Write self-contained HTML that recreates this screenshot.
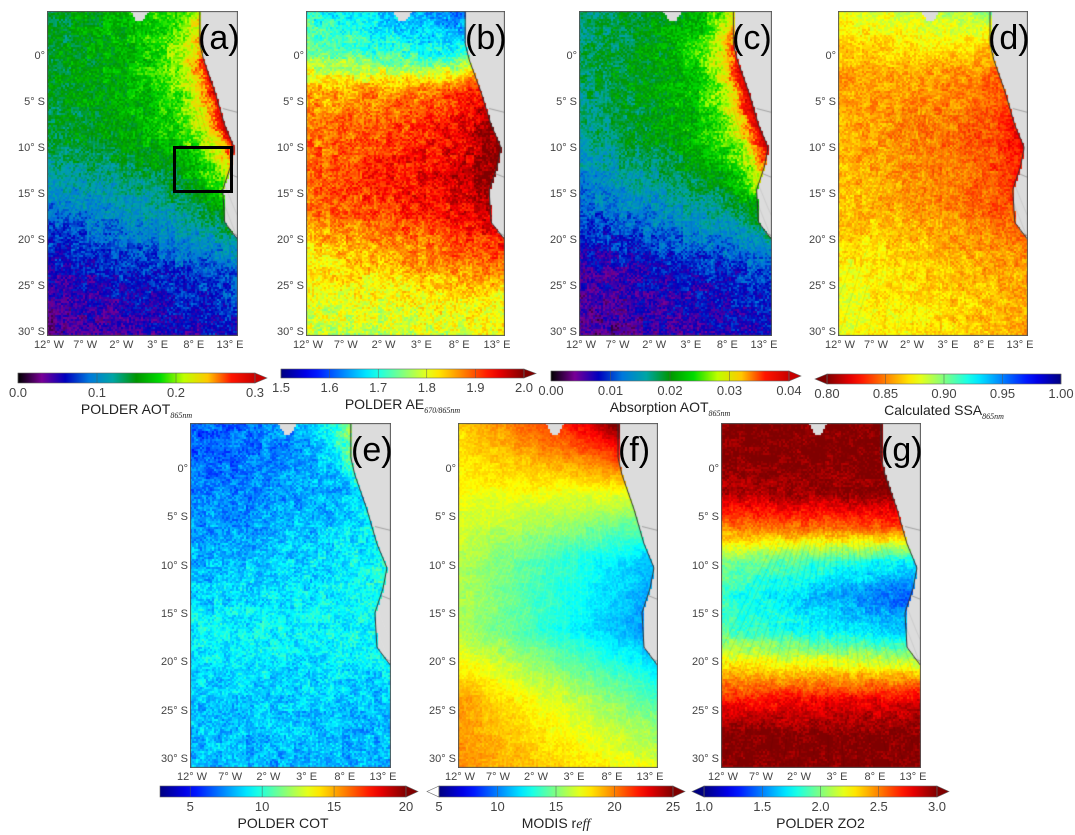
<!DOCTYPE html>
<html><head><meta charset="utf-8"><style>
html,body{margin:0;padding:0;background:#fff;}
#root{position:relative;width:1075px;height:835px;overflow:hidden;font-family:"Liberation Sans",sans-serif;color:#333;}
canvas{position:absolute;}
.t{position:absolute;white-space:nowrap;font-size:11px;color:#444;}
.pl{position:absolute;font-size:34px;color:#000;line-height:1;}
svg{position:absolute;left:0;top:0;}
</style></head><body>
<div id="root">
<svg id="cb" width="1075" height="835"></svg>
</div>
<script>
// colorbar tick labels (data)
const ticksA=["0.0","0.1","0.2","0.3"];
const ticksB=["1.5","1.6","1.7","1.8","1.9","2.0"];
const ticksC=["0.00","0.01","0.02","0.03","0.04"];
const ticksD=["0.80","0.85","0.90","0.95","1.00"];
const ticksE=["5","10","15","20"];
const ticksF=["5","10","15","20","25"];
const ticksG=["1.0","1.5","2.0","2.5","3.0"];
const latLabels=["0°","5° S","10° S","15° S","20° S","25° S","30° S"];
const lonLabels=["12° W","7° W","2° W","3° E","8° E","13° E"];
// field keyframes (normalised colour position, top->bottom)
const fieldL={a:[.46,.48,.45,.3,.18,.1],b:[.4,.5,.7,.75,.78,.75,.65,.6,.55],c:[.42,.44,.4,.28,.15,.1],d:[.62,.72,.7,.68,.62,.6],e:[.2,.24,.3,.37,.33,.3],f:[.66,.62,.55,.55,.72,.74],g:[1,1,.95,.75,.5,.42,.45,.65,.85,1,1]};
const fieldR={a:[.66,.62,.6,.46,.28,.2],b:[.2,.3,.8,.9,.95,.9,.8,.65,.6],c:[.58,.6,.62,.46,.25,.2],d:[.5,.72,.8,.78,.72,.7],e:[.3,.3,.37,.38,.32,.3],f:[1,.6,.3,.25,.45,.6],g:[1,1,1,.8,.35,.2,.3,.6,.9,1,1]};
const fieldC={a:[.1,.38,.38,.1,0,0],b:[0,.1,.12,.05,0,0],c:[.2,.45,.42,.1,0,0],d:[0,.08,.1,.05,0,0],e:[.3,.05,.05,0,0,0],f:[.1,0,0,0,0,0],g:[0,0,0,0,0,0]};
const noiseAmp={a:.09,b:.1,c:.09,d:.07,e:.09,f:.04,g:.06};

const panels=[
 {id:'a',x:47,y:11,w:191,h:325,cm:'nipy',arc:'#000',ticks:ticksA,cb:[18,255,373,383],arR:1,arL:0,title:'POLDER AOT',sub:'865nm'},
 {id:'b',x:306,y:11,w:199,h:325,cm:'jet',arc:null,ticks:ticksB,cb:[281,524,369,378],arR:1,arL:0,title:'POLDER AE',sub:'670/865nm'},
 {id:'c',x:579,y:11,w:193,h:325,cm:'nipy',arc:'#000',ticks:ticksC,cb:[551,789,371,381],arR:1,arL:0,title:'Absorption AOT',sub:'865nm'},
 {id:'d',x:838,y:11,w:190,h:325,cm:'jet',arc:'#000',ticks:ticksD,cb:[827,1061,374,384],arR:0,arL:1,title:'Calculated SSA',sub:'865nm',rev:1},
 {id:'e',x:190,y:423,w:201,h:345,cm:'jet',arc:'#fff',ticks:ticksE,cb:[160,406,786,797],arR:1,arL:0,title:'POLDER COT',sub:'',t0:2.9,t1:20},
 {id:'f',x:458,y:423,w:200,h:345,cm:'jet',arc:'#fff',ticks:ticksF,cb:[439,673,786,797],arR:1,arL:1,title:'MODIS r',sub:'eff',it:1},
 {id:'g',x:721,y:423,w:200,h:345,cm:'jet',arc:'#000',ticks:ticksG,cb:[704,937,786,797],arR:1,arL:1,title:'POLDER ZO2',sub:''}
];
const JET=[[0,[0,0,128]],[.125,[0,0,255]],[.375,[0,255,255]],[.625,[255,255,0]],[.875,[255,0,0]],[1,[128,0,0]]];
const NIPY=[[0,[0,0,0]],[.1,[120,0,150]],[.2,[0,0,190]],[.3,[0,120,220]],[.4,[0,165,165]],[.5,[0,150,0]],[.6,[0,220,0]],[.7,[190,255,0]],[.8,[255,200,0]],[.9,[255,20,0]],[1,[200,0,0]]];
function cmap(st,v){v=Math.max(0,Math.min(1,v));for(let i=1;i<st.length;i++){if(v<=st[i][0]){const a=st[i-1],b=st[i],f=(v-a[0])/(b[0]-a[0]);return [0,1,2].map(k=>Math.round(a[1][k]+(b[1][k]-a[1][k])*f));}}return st[st.length-1][1];}
function kf(arr,t){const n=arr.length-1,p=t*n,i=Math.min(n-1,Math.floor(p)),f=p-i;return arr[i]+(arr[i+1]-arr[i])*f;}
const coastT=[0,.05,.1,.15,.25,.35,.42,.48,.55,.65,.72,1];
const coastX=[.8,.8,.8,.82,.88,.93,.98,.96,.92,.93,1.02,1.1];
function coast(t){for(let i=1;i<coastT.length;i++){if(t<=coastT[i]){const f=(t-coastT[i-1])/(coastT[i]-coastT[i-1]);return coastX[i-1]+(coastX[i]-coastX[i-1])*f;}}return 1.1;}
function hash(x,y,s){let h=(x*374761393+y*668265263+s*2147483647)|0;h=(h^(h>>>13))*1274126177|0;return ((h^(h>>>16))>>>0)/4294967295;}
const root=document.getElementById('root');
const svg=document.getElementById('cb');
const NS='http://www.w3.org/2000/svg';
function txt(x,y,s,cls,align){const d=document.createElement('div');d.className=cls||'t';d.textContent=s;d.style.left=x+'px';d.style.top=y+'px';if(align==='c')d.style.transform='translateX(-50%)';if(align==='r')d.style.transform='translateX(-100%)';root.appendChild(d);return d;}
panels.forEach((P,pi)=>{
 const cv=document.createElement('canvas');cv.width=P.w;cv.height=P.h;cv.style.left=P.x+'px';cv.style.top=P.y+'px';
 
 
 root.appendChild(cv);
 const ctx=cv.getContext('2d');const st=P.cm==='jet'?JET:NIPY;const B=2;
 for(let y=0;y<P.h;y+=B){const t=y/P.h;const cx=coast(t);
  for(let x=0;x<P.w;x+=B){const u=x/P.w;
   if(u>cx||(t<0.03&&Math.abs(u-0.48)<0.045-t)){ctx.fillStyle='#dcdcdc';ctx.fillRect(x,y,B,B);continue;}
   const d=cx-u;
   let v=kf(fieldL[P.id],t)*(1-u)+kf(fieldR[P.id],t)*u+kf(fieldC[P.id],t)*Math.exp(-d/0.12);
   const n1=hash(x>>1,y>>1,pi)-0.5,n2=hash(x>>3,y>>3,pi+9)-0.5;
   v+=noiseAmp[P.id]*(n1*1.2+n2*0.8);
   if(P.rev)v=1-v;
   const c=cmap(st,P.rev?1-v:v);ctx.fillStyle='rgb('+c+')';ctx.fillRect(x,y,B,B);}}
 ctx.strokeStyle='#888';ctx.lineWidth=0.7;ctx.beginPath();
 [[.3,.92],[.5,.95],[.68,.96]].forEach(([t,u])=>{ctx.moveTo(u*P.w,t*P.h);ctx.lineTo(P.w,t*P.h+4);});
 ctx.stroke();
 ctx.strokeStyle='#333';ctx.lineWidth=1;ctx.beginPath();
 for(let y=0;y<=P.h;y+=2){const u=coast(y/P.h)*P.w;y?ctx.lineTo(u,y):ctx.moveTo(u,y);}ctx.stroke();
 if(P.arc){ctx.save();ctx.globalAlpha=.15;ctx.strokeStyle=P.arc;ctx.lineWidth=.5;
  for(let i=0;i<22;i++){const f=i/21;ctx.beginPath();ctx.moveTo(P.w*(f*1.6-0.3),P.h);ctx.quadraticCurveTo(P.w*(0.1+f*0.8),P.h*0.55,P.w*(0.3+f*0.5),P.h*0.3);ctx.stroke();}
  ctx.restore();}
 ctx.strokeStyle='#555';ctx.lineWidth=1;ctx.strokeRect(0.5,0.5,P.w-1,P.h-1);
 const per=(P.h>330?48.3:46),lat0=(P.h>330?47:46);
 latLabels.forEach((s,i)=>{const l=txt(P.x-2,P.y+lat0+i*per-7,s,'t','r');
  
  });
 lonLabels.forEach((s,i)=>{const l=txt(P.x+2+i*(P.w-10)/5,P.y+P.h+3,s,'t','c');
  
  });
 const pl=txt(P.x+P.w-40,P.y+10,'('+P.id+')','pl');
 
 
 const [x0,x1,y0,y1]=P.cb;const gid='g'+P.id;
 const lg=document.createElementNS(NS,'linearGradient');lg.setAttribute('id',gid);
 for(let k=0;k<=20;k++){const s=document.createElementNS(NS,'stop');s.setAttribute('offset',k/20);const c=cmap(st,P.rev?1-k/20:k/20);s.setAttribute('stop-color','rgb('+c+')');lg.appendChild(s);}
 svg.appendChild(lg);
 const r=document.createElementNS(NS,'rect');r.setAttribute('x',x0);r.setAttribute('y',y0);r.setAttribute('width',x1-x0);r.setAttribute('height',y1-y0);r.setAttribute('fill','url(#'+gid+')');r.setAttribute('stroke','#666');r.setAttribute('stroke-width','0.6');
 
 
 svg.appendChild(r);
 if(P.arR){const c=cmap(st,P.rev?0:1);const a=document.createElementNS(NS,'polygon');a.setAttribute('points',`${x1},${y0} ${x1+12},${(y0+y1)/2} ${x1},${y1}`);a.setAttribute('fill','rgb('+c+')');a.setAttribute('stroke','#666');a.setAttribute('stroke-width','.6');
  
  
  svg.appendChild(a);}
 if(P.arL){const c=P.id==='f'?[255,255,255]:cmap(st,P.rev?1:0);const a=document.createElementNS(NS,'polygon');a.setAttribute('points',`${x0},${y0} ${x0-12},${(y0+y1)/2} ${x0},${y1}`);a.setAttribute('fill','rgb('+c+')');a.setAttribute('stroke','#666');a.setAttribute('stroke-width','.6');
  
  
  svg.appendChild(a);}
 const n=P.ticks.length;const v0=P.t0!==undefined?P.t0:parseFloat(P.ticks[0]);const v1=P.t1!==undefined?P.t1:parseFloat(P.ticks[n-1]);
 P.ticks.forEach(s=>{const v=parseFloat(s);const x=x0+(v-v0)/(v1-v0)*(x1-x0);
  const l=txt(x,y1+2,s,'t','c');l.style.fontSize='13px';
  
  
  const tk=document.createElementNS(NS,'line');tk.setAttribute('x1',x);tk.setAttribute('x2',x);tk.setAttribute('y1',y0);tk.setAttribute('y2',y1);tk.setAttribute('stroke','#555');tk.setAttribute('stroke-width','.5');svg.appendChild(tk);});
 const ti=document.createElement('div');ti.className='t';ti.style.fontSize='14px';ti.style.color='#222';
 ti.style.left=((x0+x1)/2)+'px';ti.style.top=(y1+18)+'px';ti.style.transform='translateX(-50%)';
 ti.innerHTML=P.title+(P.sub?(P.it?'<i style="font-family:Liberation Serif,serif">'+P.sub+'</i>':'<sub style="font-size:8px;font-family:Liberation Serif,serif;font-style:italic">'+P.sub+'</sub>'):'');
 
 
 root.appendChild(ti);
});
const bx=document.createElement('div');bx.style.cssText='position:absolute;left:173px;top:146px;width:60px;height:47px;border:3px solid #000;box-sizing:border-box;';


root.appendChild(bx);
</script>
</body></html>
